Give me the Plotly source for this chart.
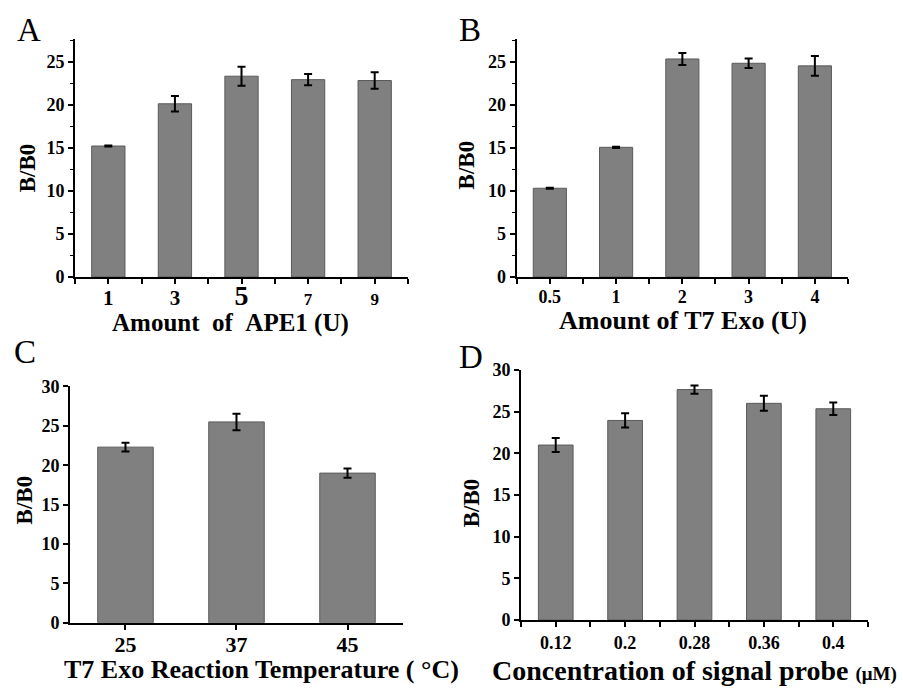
import plotly.graph_objects as go

# ---------------- data ----------------
a_labels = ["1", "3", "5", "7", "9"]
a_values = [15.2, 20.1, 23.3, 22.9, 22.8]
a_errors = [0.05, 0.9, 1.1, 0.65, 0.95]

b_labels = ["0.5", "1", "2", "3", "4"]
b_values = [10.3, 15.05, 25.3, 24.8, 24.5]
b_errors = [0.05, 0.08, 0.7, 0.55, 1.15]

c_labels = ["25", "37", "45"]
c_values = [22.3, 25.5, 19.0]
c_errors = [0.55, 1.05, 0.6]

d_labels = ["0.12", "0.2", "0.28", "0.36", "0.4"]
d_values = [21.0, 23.95, 27.65, 26.0, 25.35]
d_errors = [0.85, 0.85, 0.5, 0.9, 0.75]

y_ticks_ab = [0, 5, 10, 15, 20, 25]
y_ticks_cd = [0, 5, 10, 15, 20, 25, 30]

FONT = "Liberation Serif"
BAR_COLOR = "#808080"
BAR_LINE = "#5a5a5a"

fig = go.Figure()

panels = [
    ("x", "y", a_labels, a_values, a_errors),
    ("x2", "y2", b_labels, b_values, b_errors),
    ("x3", "y3", c_labels, c_values, c_errors),
    ("x4", "y4", d_labels, d_values, d_errors),
]
for xa, ya, labels, vals, errs in panels:
    fig.add_trace(go.Bar(
        x=list(range(len(labels))), y=vals, xaxis=xa, yaxis=ya,
        width=0.5,
        marker=dict(color=BAR_COLOR, line=dict(color=BAR_LINE, width=1)),
        error_y=dict(type="data", array=errs, visible=True, color="black",
                     thickness=2, width=4),
        showlegend=False,
    ))


def bold(labels):
    return ["<b>%s</b>" % str(t) for t in labels]


def axis_common(size):
    return dict(showline=True, linecolor="black", linewidth=2, showgrid=False,
                zeroline=False, ticks="outside", tickcolor="black", tickwidth=2,
                ticklen=5, tickfont=dict(family=FONT, size=size, color="black"))


minor_x = dict(tickmode="linear", tick0=-0.5, dtick=1, ticks="outside",
               ticklen=5, tickwidth=2, tickcolor="black")
minor_y = dict(tickmode="linear", tick0=0, dtick=2.5, ticks="outside",
               ticklen=3, tickwidth=1, tickcolor="black")

a_ticktext = [
    "<b><span style='font-size:21px'>1</span></b>",
    "<b><span style='font-size:21px'>3</span></b>",
    "<b><span style='font-size:28px'>5</span></b>",
    "<b><span style='font-size:17px'>7</span></b>",
    "<b><span style='font-size:17px'>9</span></b>",
]

fig.update_layout(
    width=903, height=693,
    margin=dict(l=0, r=0, t=0, b=0),
    paper_bgcolor="white", plot_bgcolor="white",
    # panel A
    xaxis=dict(domain=[0.0831, 0.4518], anchor="y", range=[-0.5, 4.5],
               tickmode="array", tickvals=list(range(5)), ticktext=a_ticktext,
               ticklabelstandoff=-4, minor=minor_x, **axis_common(21)),
    yaxis=dict(domain=[0.6032, 0.9567], anchor="x", range=[0, 27.6],
               tickmode="array", tickvals=y_ticks_ab, ticktext=bold(y_ticks_ab),
               minor=minor_y, **axis_common(18)),
    # panel B
    xaxis2=dict(domain=[0.5722, 0.9391], anchor="y2", range=[-0.5, 4.5],
                tickmode="array", tickvals=list(range(5)), ticktext=bold(b_labels),
                ticklabelstandoff=-3, minor=minor_x, **axis_common(18)),
    yaxis2=dict(domain=[0.6032, 0.9567], anchor="x2", range=[0, 27.6],
                tickmode="array", tickvals=y_ticks_ab, ticktext=bold(y_ticks_ab),
                minor=minor_y, **axis_common(18)),
    # panel C
    xaxis3=dict(domain=[0.0775, 0.4463], anchor="y3", range=[-0.5, 2.5],
                tickmode="array", tickvals=list(range(3)), ticktext=bold(c_labels),
                ticklabelstandoff=-4, **axis_common(22)),
    yaxis3=dict(domain=[0.0895, 0.4406], anchor="x3", range=[0, 30],
                tickmode="array", tickvals=y_ticks_cd, ticktext=bold(y_ticks_cd),
                **axis_common(18)),
    # panel D
    xaxis4=dict(domain=[0.577, 0.9612], anchor="y4", range=[-0.5, 4.5],
                tickmode="array", tickvals=list(range(5)), ticktext=bold(d_labels),
                minor=minor_x, **axis_common(18)),
    yaxis4=dict(domain=[0.0934, 0.4651], anchor="x4", range=[0, 30],
                tickmode="array", tickvals=y_ticks_cd, ticktext=bold(y_ticks_cd),
                **axis_common(18)),
)


def ann(text, x, y, size, angle=0):
    fig.add_annotation(
        text=text, x=x / 903, y=1 - y / 693, xref="paper", yref="paper",
        showarrow=False, textangle=angle, xanchor="center", yanchor="middle",
        font=dict(family=FONT, size=size, color="black"),
    )


# panel letters
ann("A", 29, 21, 33)
ann("B", 470, 21, 33)
ann("C", 25, 352, 33)
ann("D", 471, 357, 33)

# y titles
ann("<b>B/B0</b>", 27, 163, 23, angle=-90)
ann("<b>B/B0</b>", 466, 160, 23, angle=-90)
ann("<b>B/B0</b>", 24, 505, 23, angle=-90)
ann("<b>B/B0</b>", 471, 508, 23, angle=-90)

# x titles
ann("<b>Amount&nbsp;&nbsp;of&nbsp;&nbsp;APE1 (U)</b>", 230, 322, 25)
ann("<b>Amount of T7 Exo (U)</b>", 683, 320, 26)
ann("<b>T7 Exo Reaction Temperature ( °C)</b>", 261, 679, 26)
ann("<b>Concentration of signal probe <span style='font-size:19px'>(μM)</span></b>", 694, 680, 28)

fig.write_html("out.html",
               config={"displayModeBar": False},
               post_script="document.body.style.margin='0';document.body.style.overflow='hidden';")
